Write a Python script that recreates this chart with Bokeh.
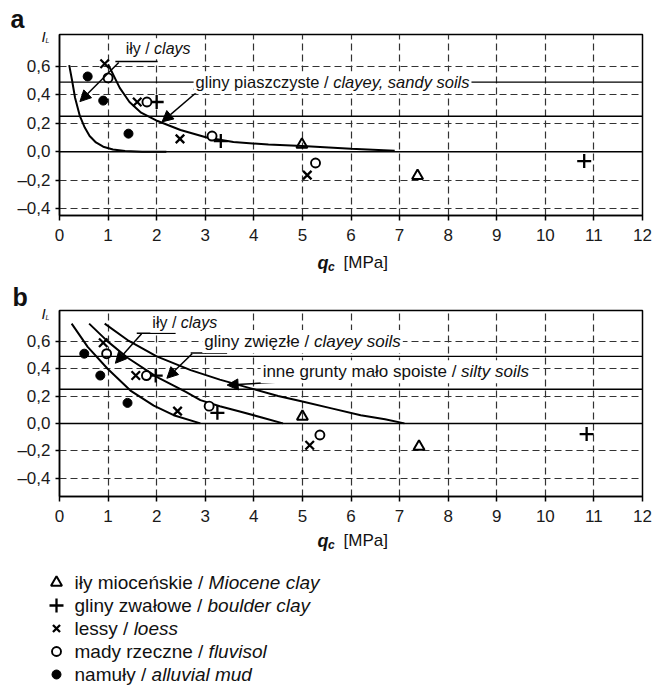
from bokeh.plotting import figure
from bokeh.layouts import column
from bokeh.models import (Range1d, FixedTicker, CustomJSTickFormatter, Span,
                          Label, Arrow, NormalHead)
from bokeh.embed import file_html
from bokeh.resources import INLINE

FONT = "Liberation Sans"
W = 654

# ---------------- data ----------------
x_ticks = list(range(0, 13))
y_ticks = [-0.4, -0.2, 0.0, 0.2, 0.4, 0.6]
il_bounds = [0.49, 0.25]

# panel a – boundary curves
a_clays_q = [0.2, 0.26, 0.32, 0.42, 0.52, 0.62, 0.75, 0.9, 1.1, 1.35, 1.7, 2.2]
a_clays_il = [0.61, 0.50, 0.38, 0.25, 0.17, 0.11, 0.065, 0.035, 0.015, 0.005, 0.0, 0.0]
a_sandy_q = [1.0, 1.24, 1.44, 1.68, 2.02, 2.49, 3.03, 3.58, 4.3, 5.0, 6.0, 6.9]
a_sandy_il = [0.616, 0.45, 0.35, 0.275, 0.216, 0.153, 0.10, 0.068, 0.05, 0.04, 0.02, 0.007]

# panel b – boundary curves
b_clays_q = [0.25, 0.58, 0.99, 1.46, 1.94, 2.35, 2.9]
b_clays_il = [0.73, 0.56, 0.40, 0.24, 0.13, 0.06, 0.0]
b_clayey_q = [0.61, 0.99, 1.4, 2.0, 2.6, 2.9, 3.3, 3.73, 4.2, 4.6]
b_clayey_il = [0.73, 0.60, 0.48, 0.34, 0.23, 0.17, 0.125, 0.085, 0.04, 0.0]
b_silty_q = [0.93, 1.4, 2.0, 2.7, 3.3, 3.9, 4.5, 5.0, 5.6, 6.2, 6.7, 7.1]
b_silty_il = [0.73, 0.61, 0.49, 0.39, 0.32, 0.26, 0.20, 0.16, 0.11, 0.06, 0.03, 0.0]

# panel a – measured points
a_miocene_q, a_miocene_il = [4.99, 7.37], [0.05, -0.17]
a_boulder_q, a_boulder_il = [2.0, 3.32, 10.8], [0.35, 0.075, -0.066]
a_loess_q, a_loess_il = [0.93, 1.6, 2.48, 5.1], [0.62, 0.35, 0.09, -0.165]
a_fluvisol_q, a_fluvisol_il = [1.0, 1.8, 3.14, 5.27], [0.52, 0.35, 0.11, -0.08]
a_mud_q, a_mud_il = [0.58, 0.9, 1.42], [0.53, 0.36, 0.127]

# panel b – measured points
b_miocene_q, b_miocene_il = [5.0, 7.4], [0.05, -0.17]
b_boulder_q, b_boulder_il = [1.98, 3.25, 10.85], [0.35, 0.077, -0.078]
b_loess_q, b_loess_il = [0.9, 1.57, 2.43, 5.15], [0.59, 0.35, 0.09, -0.16]
b_fluvisol_q, b_fluvisol_il = [0.97, 1.79, 3.08, 5.36], [0.51, 0.35, 0.126, -0.085]
b_mud_q, b_mud_il = [0.51, 0.84, 1.40], [0.51, 0.35, 0.15]

legend_pl = ["iły mioceńskie / ", "gliny zwałowe / ", "lessy / ", "mady rzeczne / ", "namuły / "]
legend_en = ["Miocene clay", "boulder clay", "loess", "fluvisol", "alluvial mud"]

# ---------------- helpers ----------------
AW = {' ': 278, '/': 278, ',': 278, 'a': 556, 'c': 500, 'd': 556, 'e': 556, 'g': 556,
      'i': 222, 'k': 500, 'l': 222, 'm': 833, 'n': 556, 'o': 556, 'p': 556, 'r': 333,
      's': 500, 't': 278, 'u': 556, 'w': 722, 'y': 500, 'z': 500, 'ł': 222, 'ę': 556,
      'ń': 556, 'ó': 556, 'M': 833, 'P': 667, '[': 278, ']': 278}


def tw(s, size):
    return sum(AW.get(ch, 556) for ch in s) * size / 1000.0


def two_part(p, x, y, reg, ital, size, bg="white"):
    p.add_layout(Label(x=x, y=y, text=reg, text_font=FONT, text_font_size=f"{size}px",
                       text_baseline="middle", text_align="left", text_color="#111",
                       background_fill_color=bg, padding=2))
    p.add_layout(Label(x=x, y=y, x_offset=tw(reg, size), text=ital, text_font=FONT,
                       text_font_size=f"{size}px", text_font_style="italic",
                       text_baseline="middle", text_align="left", text_color="#111",
                       background_fill_color=bg, padding=2))


def txt(p, x, y, s, size, style="normal", align="left"):
    p.add_layout(Label(x=x, y=y, text=s, text_font=FONT, text_font_size=f"{size}px",
                       text_font_style=style, text_baseline="middle", text_align=align,
                       text_color="#111"))


def panel(y0, y1, h, top, bottom):
    p = figure(width=W, height=h, x_range=Range1d(0, 12), y_range=Range1d(y0, y1),
               output_backend="svg", toolbar_location=None,
               min_border_left=59, min_border_right=12,
               min_border_top=top, min_border_bottom=bottom)
    p.border_fill_color = None
    p.xaxis.ticker = FixedTicker(ticks=x_ticks)
    p.yaxis.ticker = FixedTicker(ticks=y_ticks)
    p.yaxis.formatter = CustomJSTickFormatter(
        code="var s = Math.abs(tick).toFixed(1).replace('.', ','); "
             "return (tick < -1e-9 ? '\\u2013' : '') + s;")
    for ax in (p.xaxis[0], p.yaxis[0]):
        ax.axis_line_color = "black"
        ax.axis_line_width = 1.5
        ax.major_tick_line_color = "black"
        ax.major_tick_line_width = 1.5
        ax.major_tick_in = 0
        ax.major_tick_out = 5
        ax.minor_tick_line_color = None
        ax.major_label_text_font = FONT
        ax.major_label_text_font_size = "17px"
        ax.major_label_text_color = "#1a1a1a"
    p.xaxis.major_label_standoff = 8
    p.yaxis.major_label_standoff = 5
    p.yaxis.major_tick_out = 4
    p.outline_line_color = "black"
    p.outline_line_width = 1.5
    p.outline_line_alpha = 1.0
    p.xgrid.ticker = FixedTicker(ticks=x_ticks[1:-1])
    p.ygrid.ticker = FixedTicker(ticks=[t for t in y_ticks if t != 0])
    p.grid.grid_line_color = "#333333"
    p.grid.grid_line_dash = "7 4"
    p.grid.grid_line_width = 1.2
    p.add_layout(Span(location=0, dimension="width", line_color="black", line_width=1.5))
    for b in il_bounds:
        p.add_layout(Span(location=b, dimension="width", line_color="black", line_width=1.4))
    return p


def strip(h, top_page, overlap=0):
    s = figure(width=W, height=h, x_range=Range1d(0, W),
               y_range=Range1d(top_page + h, top_page),
               output_backend="svg", toolbar_location=None,
               x_axis_type=None, y_axis_type=None, min_border=0)
    try:
        s.frame_align = False
    except AttributeError:
        pass
    if overlap:
        s.margin = (0, 0, -overlap, 0)
    s.outline_line_color = None
    s.background_fill_color = None
    s.border_fill_color = None
    s.grid.visible = False
    return s


def markers(p, mio, bou, loe, flu, mud):
    p.scatter(mio[0], mio[1], marker="triangle", size=11, fill_color=None,
              line_color="black", line_width=2)
    p.scatter(bou[0], bou[1], marker="cross", size=14, line_color="black", line_width=2.3)
    p.scatter(loe[0], loe[1], marker="x", size=12, line_color="black", line_width=2.3)
    p.scatter(flu[0], flu[1], marker="circle", size=9, fill_color="white",
              line_color="black", line_width=1.9)
    p.scatter(mud[0], mud[1], marker="circle", size=9, fill_color="black",
              line_color="black")


def head():
    return NormalHead(size=11, fill_color="black", line_color="black", line_width=1)


def il_label(s, x, y):
    txt(s, x, y, "I", 15, style="italic", align="center")
    txt(s, x + 4, y + 4, "L", 7, style="italic", align="center")


def qc_label(s, x, y):
    txt(s, x, y, "q", 18, style="bold italic")
    txt(s, x + 10.5, y + 4.5, "c", 12, style="bold italic")
    txt(s, x + 26, y, "[MPa]", 17)


# ---------------- top strip (a, I_L) ----------------
s0 = strip(44, 0, overlap=12)
txt(s0, 10, 18, "a", 25, style="bold")
il_label(s0, 43, 36)

# ---------------- panel a ----------------
pa = panel(-0.45, 0.826, 217, 2, 34)
pa.line(a_clays_q, a_clays_il, line_color="black", line_width=2)
pa.line(a_sandy_q, a_sandy_il, line_color="black", line_width=2)
markers(pa, (a_miocene_q, a_miocene_il), (a_boulder_q, a_boulder_il),
        (a_loess_q, a_loess_il), (a_fluvisol_q, a_fluvisol_il), (a_mud_q, a_mud_il))
pa.segment(x0=[1.15, 2.76], y0=[0.635, 0.44], x1=[2.02, 3.55], y1=[0.635, 0.44],
           line_color="black", line_width=1.5)
pa.add_layout(Arrow(end=head(), x_start=1.22, y_start=0.628, x_end=0.42, y_end=0.353,
                    line_width=1.5))
pa.add_layout(Arrow(end=head(), x_start=2.87, y_start=0.433, x_end=2.11, y_end=0.21,
                    line_width=1.5))
two_part(pa, 1.32, 0.725, "iły / ", "clays", 16)
two_part(pa, 2.76, 0.49, "gliny piaszczyste / ", "clayey, sandy soils", 16.5)

# ---------------- middle strip (q_c a, b, I_L) ----------------
s1 = strip(72, 249, overlap=13)
qc_label(s1, 317, 262)
txt(s1, 12, 296, "b", 25, style="bold")
il_label(s1, 43, 313)

# ---------------- panel b ----------------
pb = panel(-0.535, 0.826, 222, 2, 34)
pb.line(b_clays_q, b_clays_il, line_color="black", line_width=2)
pb.line(b_clayey_q, b_clayey_il, line_color="black", line_width=2)
pb.line(b_silty_q, b_silty_il, line_color="black", line_width=2)
markers(pb, (b_miocene_q, b_miocene_il), (b_boulder_q, b_boulder_il),
        (b_loess_q, b_loess_il), (b_fluvisol_q, b_fluvisol_il), (b_mud_q, b_mud_il))
pb.segment(x0=[1.59, 2.7], y0=[0.66, 0.515], x1=[2.39, 3.45], y1=[0.66, 0.515],
           line_color="black", line_width=1.5)
pb.add_layout(Arrow(end=head(), x_start=1.69, y_start=0.655, x_end=1.15, y_end=0.44,
                    line_width=1.5))
pb.add_layout(Arrow(end=head(), x_start=2.73, y_start=0.51, x_end=2.21, y_end=0.33,
                    line_width=1.5))
pb.add_layout(Arrow(end=head(), x_start=4.62, y_start=0.305, x_end=3.45, y_end=0.28,
                    line_width=1.5))
two_part(pb, 1.87, 0.74, "iły / ", "clays", 16)
two_part(pb, 2.94, 0.60, "gliny zwięzłe / ", "clayey soils", 17)
two_part(pb, 4.14, 0.377, "inne grunty mało spoiste / ", "silty soils", 17)

# ---------------- bottom: q_c b + legend ----------------
leg = strip(156, 530)
qc_label(leg, 317, 540)
rows = [582, 605, 628, 651, 674]
sym_x = 56
leg.scatter([sym_x], [rows[0]], marker="triangle", size=11, fill_color=None,
            line_color="black", line_width=2)
leg.scatter([sym_x], [rows[1]], marker="cross", size=14, line_color="black", line_width=2.3)
leg.scatter([sym_x], [rows[2]], marker="x", size=10, line_color="black", line_width=2.3)
leg.scatter([sym_x], [rows[3]], marker="circle", size=9, fill_color="white",
            line_color="black", line_width=1.9)
leg.scatter([sym_x], [rows[4]], marker="circle", size=9, fill_color="black",
            line_color="black")
for r, pl, en in zip(rows, legend_pl, legend_en):
    two_part(leg, 72, r, pl, en, 19, bg=None)

layout = column(s0, pa, s1, pb, leg)
with open("out.html", "w", encoding="utf-8") as f:
    f.write(file_html(layout, INLINE))
